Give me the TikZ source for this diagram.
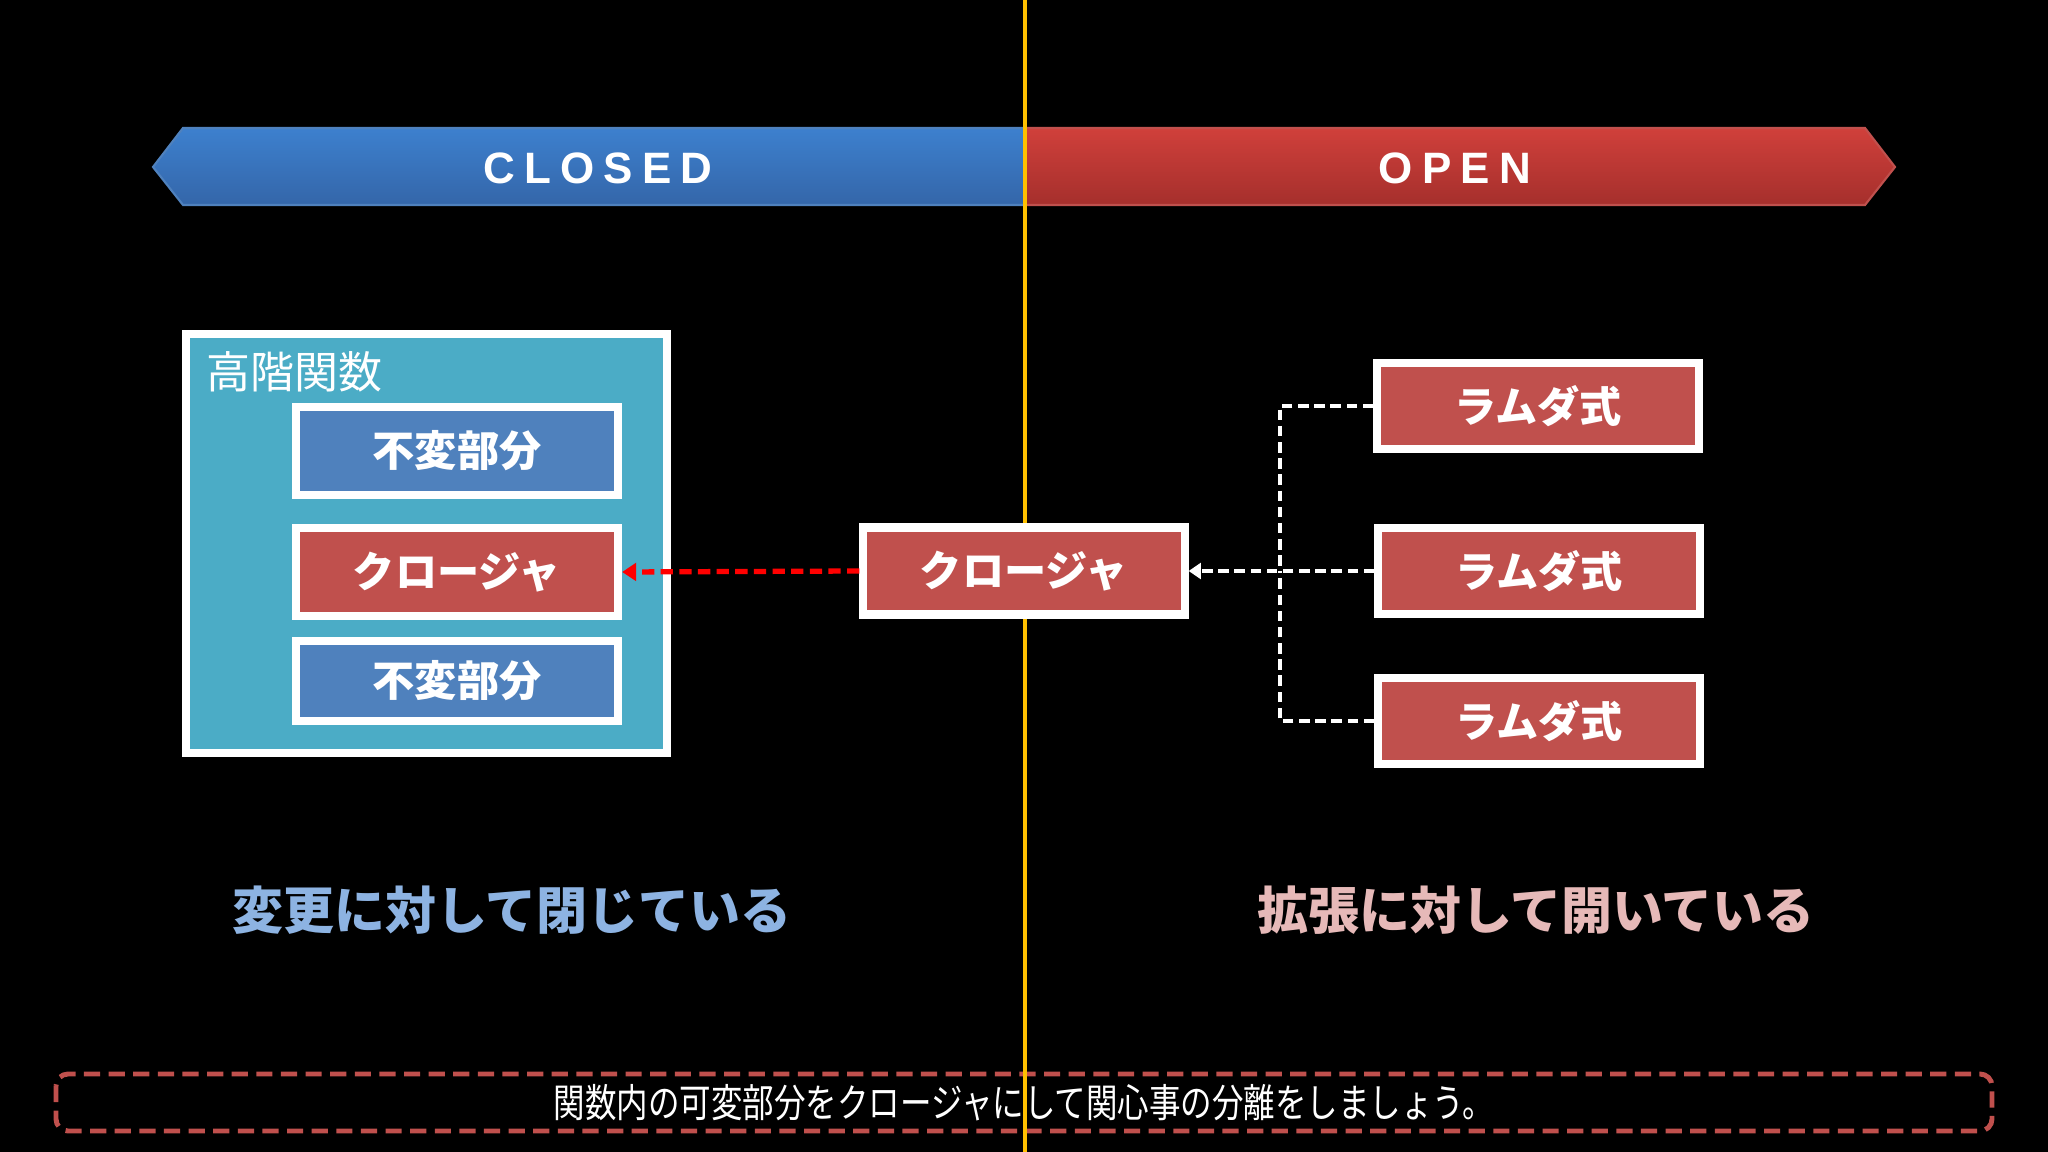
\documentclass[tikz,border=0pt]{standalone}
\usepackage{fontspec}
\usepackage{tikz}
\usetikzlibrary{arrows.meta,positioning}
\newfontfamily\jp{Noto Sans CJK JP}
\newfontfamily\jpsub[FakeStretch=0.8]{Noto Sans CJK JP}
\newfontfamily\banfont[LetterSpace=21]{Liberation Sans}
\definecolor{boxblue}{HTML}{4F81BD}
\definecolor{boxred}{HTML}{C0504D}
\definecolor{boxteal}{HTML}{4BACC6}
\definecolor{linegold}{HTML}{FFC000}
\definecolor{closedtxt}{HTML}{8DB3E2}
\definecolor{opentxt}{HTML}{E6B9B8}
\definecolor{bluetop}{HTML}{3D80CE}
\definecolor{bluebot}{HTML}{3466A9}
\definecolor{redtop}{HTML}{D0403B}
\definecolor{redbot}{HTML}{A52F2C}
\tikzset{
  part/.style={draw=white, line width=2.3pt, minimum width=3.22cm, minimum height=0.88cm,
    font=\jp\bfseries\fontsize{12}{14}\selectfont, text=white},
  partblue/.style={part, fill=boxblue},
  partred/.style={part, fill=boxred},
  bantext/.style={text=white, font=\banfont\bfseries\fontsize{12.5}{14}\selectfont},
  wdash/.style={draw=white, line width=1.2pt, dash pattern=on 3pt off 1.6pt},
  rdash/.style={draw=red, line width=1.5pt, dash pattern=on 3.5pt off 1.8pt}
}
\begin{document}
\begin{tikzpicture}[x=0.01cm,y=-0.01cm]
\fill[black] (0,0) rectangle (2048,1152);
\useasboundingbox (0,0) rectangle (2048,1152);

\fill[top color=bluetop, bottom color=bluebot, draw=boxblue, line width=0.6pt]
  (153,167) -- (183,128) -- (1025,128) -- (1025,205) -- (183,205) -- cycle;
\fill[top color=redtop, bottom color=redbot, draw=boxred, line width=0.6pt]
  (1025,128) -- (1865,128) -- (1895,167) -- (1865,205) -- (1025,205) -- cycle;
\node[bantext] (closed) at (598,168) {CLOSED};
\node[bantext] (open) at (1455,168) {OPEN};

\draw[boxred, line width=1.4pt, dash pattern=on 4.6pt off 2.4pt, rounded corners=0.12cm]
  (56,1074) rectangle (1992,1131);
\draw[linegold, line width=1.1pt] (1025,0) -- (1025,1152);
\node[text=white, font=\jpsub\fontsize{11.2}{12}\selectfont] (note) at (1024,1103)
  {関数内の可変部分をクロージャにして関心事の分離をしましょう。};

\node[draw=white, fill=boxteal, line width=2.3pt, minimum width=4.81cm, minimum height=4.19cm] (hof) at (426.5,543.5) {};
\node[anchor=west, text=white, font=\jp\fontsize{12.5}{14}\selectfont] (hoflabel) at (194,372) {高階関数};
\node[partblue] (inv1) at (457,451) {不変部分};
\node[partred] (clo1) at (457,572) {クロージャ};
\node[partblue, minimum height=0.8cm] (inv2) at (457,681) {不変部分};

\node[partred, minimum width=3.21cm, minimum height=0.87cm] (clo) at (1024,571) {クロージャ};
\node[partred, minimum width=3.21cm, minimum height=0.86cm] (lam1) at (1538,406) {ラムダ式};
\node[partred, minimum width=3.21cm, minimum height=0.86cm] (lam2) at (1539,571) {ラムダ式};
\node[partred, minimum width=3.21cm, minimum height=0.86cm] (lam3) at (1539,721) {ラムダ式};
\coordinate (jn) at (1280,571);

\draw[rdash, -{Triangle[length=4pt,width=5pt]}] (clo.west) -- (clo1.east);
\draw[wdash] (lam1.west) -| (jn);
\draw[wdash] (lam3.west) -| (jn);
\draw[wdash, -{Triangle[length=3.5pt,width=4.5pt]}] (lam2.west) -- (clo.east);

\node[text=closedtxt, font=\jp\bfseries\fontsize{14.5}{16}\selectfont] (closedmsg) at (512,910) {変更に対して閉じている};
\node[text=opentxt, font=\jp\bfseries\fontsize{14.5}{16}\selectfont] (openmsg) at (1536,910) {拡張に対して開いている};
\end{tikzpicture}
\end{document}
